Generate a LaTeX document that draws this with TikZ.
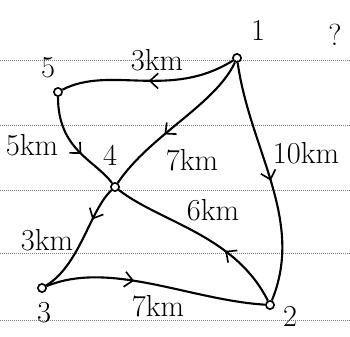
\documentclass[tikz,border=0pt]{standalone}
\usetikzlibrary{decorations.markings,arrows.meta}
\begin{document}
\begin{tikzpicture}[x=0.03cm,y=-0.03cm,
  vertex/.style={draw,circle,inner sep=0pt,minimum size=7pt,line width=1.4pt},
  road/.style={line width=1.8pt},
  flow/.style={postaction={decorate},decoration={markings,
    mark=at position #1 with {\arrow[line width=1.4pt]{Straight Barb[length=7pt,width=13pt]}}}},
  lbl/.style={font=\fontsize{26}{26}\selectfont},
  rule/.style={gray,densely dotted,line width=0.7pt}]
\useasboundingbox (0,0) rectangle (350,337);
\foreach \y in {60,125,190,253,320}
  \draw[rule] (0,\y) -- (350,\y);
\node[vertex] (v1) at (237,58) {};
\node[vertex] (v5) at (58,92) {};
\node[vertex] (v4) at (115,187) {};
\node[vertex] (v3) at (42,288) {};
\node[vertex] (v2) at (270,305) {};
\draw[road,flow=0.5] (v1) .. controls (170,100) and (110,65) .. (v5);
\draw[road,flow=0.6] (v5) .. controls (58,150) and (95,160) .. (v4);
\draw[road,flow=0.6] (v1) .. controls (215,105) and (150,135) .. (v4);
\draw[road,flow=0.5] (v1) .. controls (250,150) and (305,220) .. (v2);
\draw[road,flow=0.35] (v2) .. controls (235,235) and (160,222) .. (v4);
\draw[road,flow=0.3] (v4) .. controls (90,210) and (80,265) .. (v3);
\draw[road,flow=0.4] (v3) .. controls (110,260) and (190,300) .. (v2);
\node[lbl] (n1) at (258,30) {1};
\node[lbl] (n5) at (48,68) {5};
\node[lbl] (n4) at (110,155) {4};
\node[lbl] (n3) at (44,313) {3};
\node[lbl] (n2) at (290,316) {2};
\node[lbl] (q) at (335,35) {?};
\node[lbl] (d15) at (157,60) {3km};
\node[lbl] (d54) at (32,145) {5km};
\node[lbl] (d14) at (192,160) {7km};
\node[lbl] (d12) at (306,153) {10km};
\node[lbl] (d24) at (213,210) {6km};
\node[lbl] (d43) at (47,240) {3km};
\node[lbl] (d32) at (158,306) {7km};
\end{tikzpicture}
\end{document}
